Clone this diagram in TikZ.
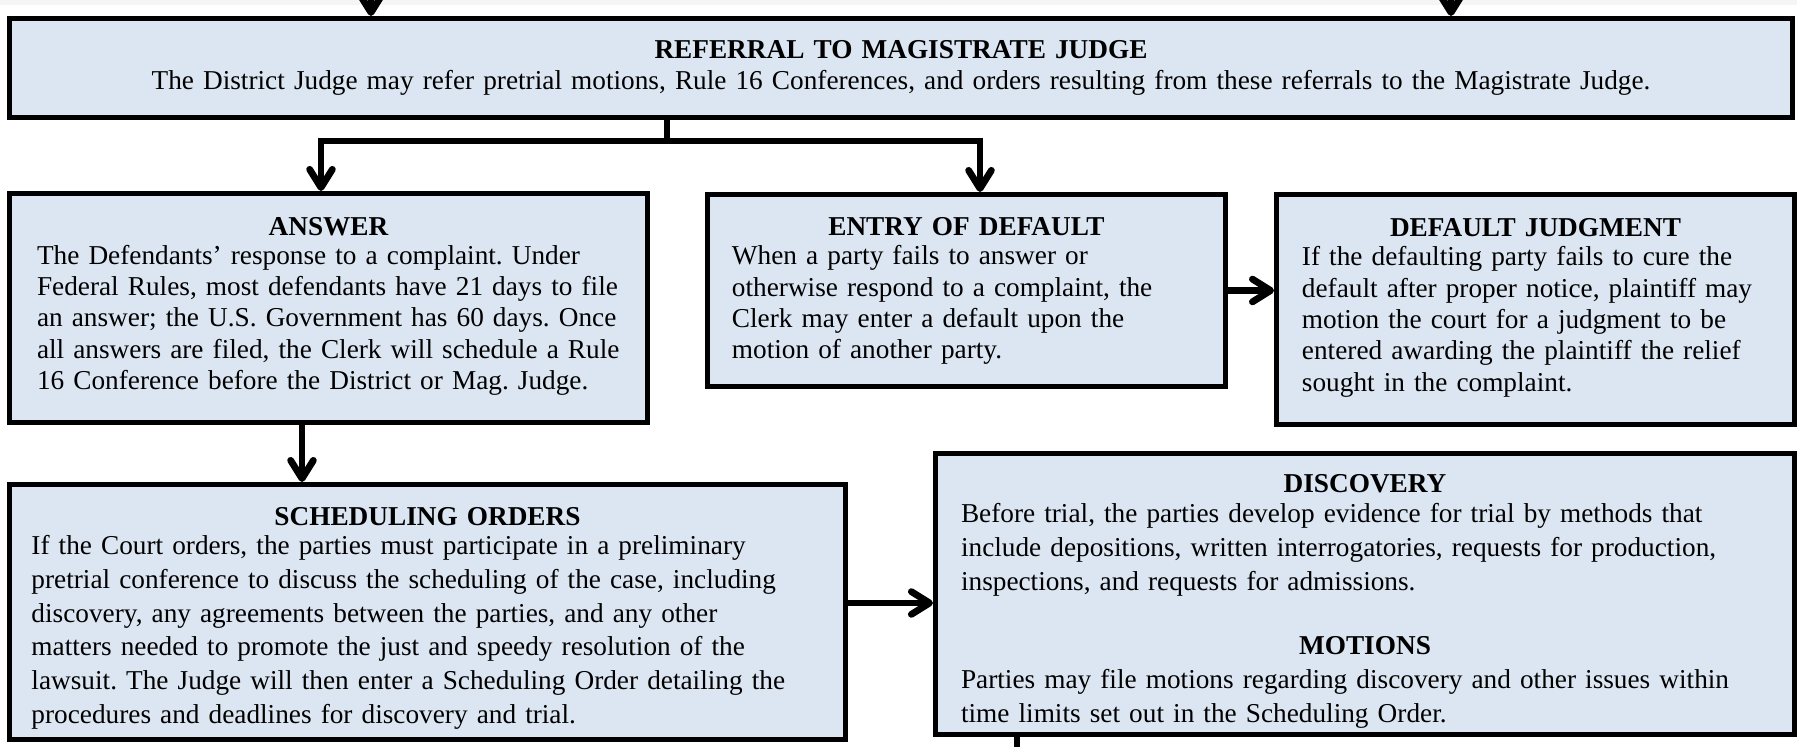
\documentclass[tikz,border=0pt]{standalone}
\usepackage{fontspec}
\setmainfont{Liberation Serif}
\usetikzlibrary{arrows.meta}
\frenchspacing

\definecolor{boxblue}{RGB}{220,230,242}
\newcommand{\boxtitle}[2][1pt]{{\centering\bfseries #2\par}\vspace{-#1}}
\newcommand{\boxlines}[1]{\begin{tabular}[t]{@{}l@{}}#1\end{tabular}}
\newcommand{\toppad}[1]{\rule{0pt}{#1}}

\begin{document}
\begin{tikzpicture}[x=0.44pt,y=-0.44pt]
    \useasboundingbox (0,0) rectangle (1797,747);
    \fill[gray!8] (0,0) rectangle (1797,5);

        \begin{scope}[every node/.style={rectangle,draw,fill=boxblue,line width=2.2pt,inner xsep=0pt,inner ysep=0pt,font=\fontsize{12pt}{13.8pt}\selectfont}]
            \node[minimum width=784.5pt,minimum height=43.6pt,text width=748pt,align=center] (1) at (901,68)
                {\textbf{REFERRAL TO MAGISTRATE JUDGE}\\The District Judge may refer pretrial motions, Rule 16 Conferences, and orders resulting from these referrals to the Magistrate Judge.};
            \node[minimum width=280.7pt,minimum height=100.8pt,text width=256.5pt] (2) at (328.5,308)
                {\boxtitle{ANSWER}\boxlines{The Defendants’ response to a complaint. Under\\Federal Rules, most defendants have 21 days to file\\an answer; the U.S. Government has 60 days. Once\\all answers are filed, the Clerk will schedule a Rule\\16 Conference before the District or Mag. Judge.}};
            \node[minimum width=227.9pt,minimum height=84.5pt,text width=206.4pt] (3) at (966.5,290.5)
                {\boxtitle{\toppad{10pt}ENTRY OF DEFAULT}\boxlines{When a party fails to answer or\\otherwise respond to a complaint, the\\Clerk may enter a default upon the\\motion of another party.}};
            \node[minimum width=227.9pt,minimum height=101.2pt,text width=205.5pt] (4) at (1535.5,309.5)
                {\boxtitle{DEFAULT JUDGMENT}\boxlines{If the defaulting party fails to cure the\\default after proper notice, plaintiff may\\motion the court for a judgment to be\\entered awarding the plaintiff the relief\\sought in the complaint.}};
            \node[minimum width=367.8pt,minimum height=112pt,text width=348.5pt,font=\fontsize{12pt}{14.9pt}\selectfont] (5) at (427.5,611.75)
                {\boxtitle[2.2pt]{\toppad{15.7pt}SCHEDULING ORDERS}\boxlines{If the Court orders, the parties must participate in a preliminary\\pretrial conference to discuss the scheduling of the case, including\\discovery, any agreements between the parties, and any other\\matters needed to promote the just and speedy resolution of the\\lawsuit. The Judge will then enter a Scheduling Order detailing the\\procedures and deadlines for discovery and trial.}};
            \node[minimum width=378pt,minimum height=123.6pt,text width=355.5pt,font=\fontsize{12pt}{14.9pt}\selectfont] (6) at (1365,594)
                {\boxtitle[1.5pt]{\toppad{16.4pt}DISCOVERY}\boxlines{Before trial, the parties develop evidence for trial by methods that\\include depositions, written interrogatories, requests for production,\\inspections, and requests for admissions.}\par\vspace{\baselineskip}
                 \boxtitle[0pt]{MOTIONS}\boxlines{Parties may file motions regarding discovery and other issues within\\time limits set out in the Scheduling Order.}};
        \end{scope}

        \coordinate (t1) at (371,-40);
        \coordinate (t2) at (1451,-40);
        \coordinate (s) at (667,141);
        \coordinate (a) at (321,141);
        \coordinate (b) at (980,141);
        \coordinate (c) at (302,0);
        \coordinate (d) at (0,603);
        \coordinate (e) at (1017,780);

        \begin{scope}[line width=3pt, >={Straight Barb[length=8pt,width=10pt,round]}]
            \draw [->] (t1) -- (t1 |- 1.north);
            \draw [->] (t2) -- (t2 |- 1.north);

            \draw (1.south -| s) -- (s);
            \draw [->] (s) -- (a) -- (a |- 2.north);
            \draw [->] (s) -- (b) -- (b |- 3.north);

            \draw [->] (3.east) -- (3.east -| 4.west);
            \draw [->] (c |- 2.south) -- (c |- 5.north);
            \draw [->] (5.east |- d) -- (6.west |- d);

            \draw (6.south -| e) -- (e);
        \end{scope}

    \end{tikzpicture}
\end{document}
